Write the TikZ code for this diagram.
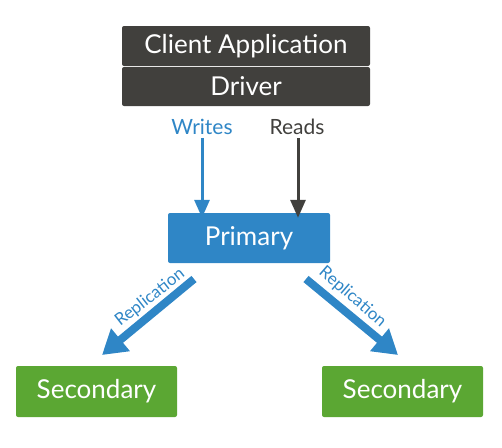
\documentclass[tikz,border=0pt]{standalone}
\usepackage{fontspec}
\setmainfont{Lato}
\usetikzlibrary{arrows.meta}
\definecolor{mdark}{HTML}{41403D}
\definecolor{mblue}{HTML}{2F86C6}
\definecolor{mgreen}{HTML}{5BA733}
\tikzset{
  box/.style={rectangle, rounded corners=2pt, inner sep=0pt, text=white, font=\fontsize{26}{30}\selectfont},
  darkbox/.style={box, fill=mdark, minimum width=248pt},
  bluebox/.style={box, fill=mblue, minimum width=162pt, minimum height=50pt},
  greenbox/.style={box, fill=mgreen, minimum width=161pt, minimum height=51pt},
  lbl/.style={inner sep=0pt, font=\fontsize{21}{24}\selectfont},
  thinarrow/.style={line width=3pt, -{Triangle[length=18pt,width=15pt]}},
  reparrow/.style={line width=8pt, mblue, -{Triangle[length=24pt,width=28pt]}},
  replbl/.style={inner sep=0pt, text=mblue, font=\fontsize{17}{20}\selectfont},
}
\begin{document}
\begin{tikzpicture}[x=1pt,y=-1pt]
\useasboundingbox (0,0) rectangle (502,447);
\node[darkbox, minimum height=40pt] (client) at (246,46) {Client Application};
\node[darkbox, minimum height=39pt] (driver) at (246,86.5) {Driver};
\node[lbl, text=mblue] (writes) at (202,127) {Writes};
\node[lbl, text=mdark] (reads) at (297,127) {Reads};
\node[bluebox] (primary) at (249,238) {Primary};
\node[greenbox] (secl) at (96.5,391.5) {Secondary};
\node[greenbox] (secr) at (402.5,391.5) {Secondary};
\draw[thinarrow, mblue] ([yshift=-3pt]writes.south) -- ([yshift=-5pt]writes.south |- primary.north);
\draw[thinarrow, mdark] ([xshift=1pt,yshift=-3pt]reads.south) -- ([xshift=1pt,yshift=-5pt]reads.south |- primary.north);
\coordinate (ls) at (194,279);
\coordinate (le) at (102,355);
\coordinate (rs) at (306,279);
\coordinate (re) at (398,355);
\draw[reparrow] (ls) -- (le);
\draw[reparrow] (rs) -- (re);
\node[replbl, rotate=38] (repl) at (150,297.5) {Replication};
\node[replbl, rotate=-41] (repr) at (352.5,297) {Replication};
\end{tikzpicture}
\end{document}
